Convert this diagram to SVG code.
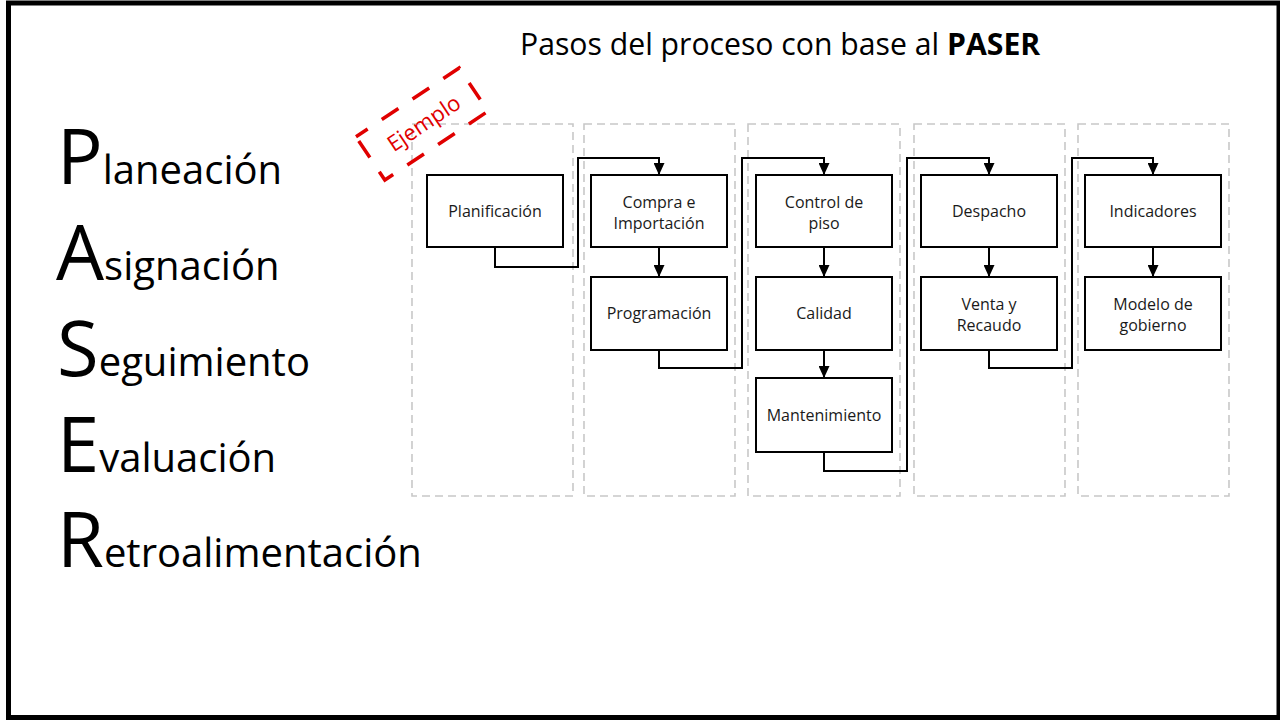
<svg xmlns="http://www.w3.org/2000/svg" width="1280" height="720" viewBox="0 0 1280 720">
<defs>
<marker id="arr" viewBox="0 0 12 11" refX="12" refY="5.5" markerWidth="12" markerHeight="11" orient="auto" markerUnits="userSpaceOnUse">
<path d="M0,0 L12,5.5 L0,11 Z" fill="#000"/>
</marker>
<style>
.lane{fill:none;stroke:#c8c8c8;stroke-width:1.6;stroke-dasharray:8 5}
.box{fill:#fff;stroke:#000;stroke-width:2}
.bt{font-family:"Open Sans","Noto Sans",sans-serif;font-size:16px;fill:#1a1a1a;text-anchor:middle}
.con{fill:none;stroke:#000;stroke-width:2}
.big{font-family:"Open Sans","Noto Sans",sans-serif;fill:#000}
</style>
</defs>
<rect width="1280" height="720" fill="#fff"/>
<rect x="8.5" y="3" width="1270.5" height="714.5" fill="none" stroke="#000" stroke-width="5"/>

<text x="520" y="55" font-family="'Open Sans','Noto Sans',sans-serif" font-size="30.2" fill="#000">Pasos del proceso con base al <tspan font-weight="bold">PASER</tspan></text>

<g id="paser">
<text class="big" x="57" y="184"><tspan font-size="76">P</tspan><tspan font-size="40">laneación</tspan></text>
<text class="big" x="56" y="280"><tspan font-size="76">A</tspan><tspan font-size="40">signación</tspan></text>
<text class="big" x="57" y="376"><tspan font-size="76">S</tspan><tspan font-size="40">eguimiento</tspan></text>
<text class="big" x="57" y="472"><tspan font-size="76">E</tspan><tspan font-size="40">valuación</tspan></text>
<text class="big" x="57" y="567"><tspan font-size="76">R</tspan><tspan font-size="40">etroalimentación</tspan></text>
</g>

<g id="lanes">
<rect class="lane" x="412" y="124" width="161" height="372"/>
<rect class="lane" x="584" y="124" width="151" height="372"/>
<rect class="lane" x="748" y="124" width="152" height="372"/>
<rect class="lane" x="914" y="124" width="151" height="372"/>
<rect class="lane" x="1078" y="124" width="151" height="372"/>
</g>

<g id="ejemplo" transform="translate(422,124) rotate(-33.7)">
<rect x="-62" y="-26" width="124" height="52" fill="none" stroke="#e00000" stroke-width="3.5" stroke-dasharray="20 17" stroke-dashoffset="6"/>
<text x="2" y="8" font-family="'Open Sans','Noto Sans',sans-serif" font-size="22" fill="#e00000" text-anchor="middle">Ejemplo</text>
</g>

<g id="connectors">
<path class="con" d="M495,247 V267 H578 V158 H659 V175" marker-end="url(#arr)"/>
<path class="con" d="M659,248 V277" marker-end="url(#arr)"/>
<path class="con" d="M659,350 V368 H742 V158 H824 V175" marker-end="url(#arr)"/>
<path class="con" d="M824,248 V277" marker-end="url(#arr)"/>
<path class="con" d="M824,350 V378" marker-end="url(#arr)"/>
<path class="con" d="M824,452 V471 H907 V158 H989 V175" marker-end="url(#arr)"/>
<path class="con" d="M989,248 V277" marker-end="url(#arr)"/>
<path class="con" d="M989,350 V368 H1072 V158 H1153 V175" marker-end="url(#arr)"/>
<path class="con" d="M1153,248 V277" marker-end="url(#arr)"/>
</g>

<g id="n-planificacion"><rect class="box" x="427" y="175" width="136" height="72"/><text class="bt" x="495" y="217">Planificación</text></g>
<g id="n-compra"><rect class="box" x="591" y="175" width="136" height="72"/><text class="bt" x="659" y="208">Compra e</text><text class="bt" x="659" y="229">Importación</text></g>
<g id="n-programacion"><rect class="box" x="591" y="277" width="136" height="73"/><text class="bt" x="659" y="319">Programación</text></g>
<g id="n-control"><rect class="box" x="756" y="175" width="136" height="72"/><text class="bt" x="824" y="208">Control de</text><text class="bt" x="824" y="229">piso</text></g>
<g id="n-calidad"><rect class="box" x="756" y="277" width="136" height="73"/><text class="bt" x="824" y="319">Calidad</text></g>
<g id="n-mantenimiento"><rect class="box" x="756" y="378" width="136" height="74"/><text class="bt" x="824" y="421">Mantenimiento</text></g>
<g id="n-despacho"><rect class="box" x="921" y="175" width="136" height="72"/><text class="bt" x="989" y="217">Despacho</text></g>
<g id="n-venta"><rect class="box" x="921" y="277" width="136" height="73"/><text class="bt" x="989" y="310">Venta y</text><text class="bt" x="989" y="331">Recaudo</text></g>
<g id="n-indicadores"><rect class="box" x="1085" y="175" width="136" height="72"/><text class="bt" x="1153" y="217">Indicadores</text></g>
<g id="n-modelo"><rect class="box" x="1085" y="277" width="136" height="73"/><text class="bt" x="1153" y="310">Modelo de</text><text class="bt" x="1153" y="331">gobierno</text></g>
</svg>
